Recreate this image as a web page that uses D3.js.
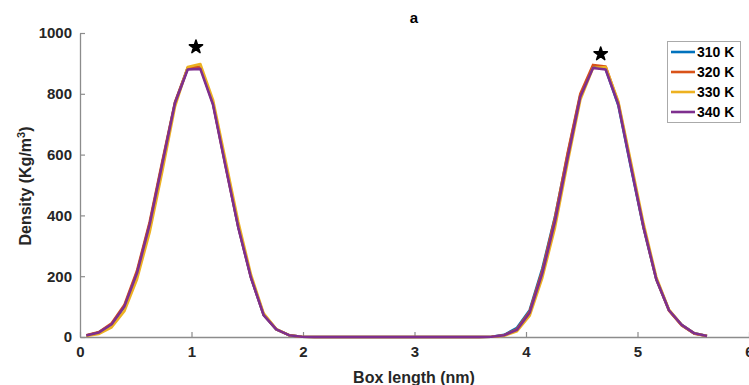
<!DOCTYPE html>
<html><head><meta charset="utf-8">
<script src="https://cdn.jsdelivr.net/npm/d3@7"></script>
<style>body{margin:0;background:#fff;}svg{display:block;font-family:"Liberation Sans",Arial,sans-serif;}</style>
</head><body><svg id="c" width="749" height="385"></svg>
<script>
const binCount = 50;
const binStart = 0.0568, binWidth = 0.1136;
const xValues = d3.range(binCount).map(i => binStart + binWidth * i);
const d340 = [5,15,42,100,210,370,570,770,880,882,765,560,360,195,72,25,6,1,0,0,0,0,0,0,0,0,0,0,0,0,0,0,1,6,24,80,210,380,590,790,885,880,765,560,360,190,88,40,12,3];
const d330 = [3,10,32,85,190,345,545,758,888,898,780,580,378,205,78,26,6,1,0,0,0,0,0,0,0,0,0,0,0,0,0,0,1,4,19,70,195,360,575,780,885,888,775,575,372,197,90,40,12,3];
const d320 = [6,16,45,105,218,378,578,772,885,888,768,562,362,196,73,25,6,1,0,0,0,0,0,0,0,0,0,0,0,0,0,0,1,6,26,84,218,392,605,800,895,890,770,565,360,190,87,38,11,3];
const d310 = [5,15,42,100,212,372,572,770,884,890,770,565,362,196,73,25,6,1,0,0,0,0,0,0,0,0,0,0,0,0,0,0,1,7,30,88,225,395,600,795,888,882,762,558,358,190,88,40,12,3];
const seriesNames = ["310 K","320 K","330 K","340 K"];
const seriesData = [d310, d320, d330, d340];
const colors = ["#0072BD","#D95319","#EDB120","#7E2F8E"];
const xTicks = [0,1,2,3,4,5,6];
const yTicks = [0,200,400,600,800,1000];
const stars = [[1.04,954],[4.67,931]];

const svg = d3.select("#c");
const x = d3.scaleLinear().domain([0,6]).range([80,749]);
const y = d3.scaleLinear().domain([0,1000]).range([337,33]);
const tc = "#262626", ac = "#8c8c8c";

// axes
const xa = svg.append("g").attr("transform","translate(0,337)")
  .call(d3.axisBottom(x).tickValues(xTicks).tickFormat(d3.format("d")).tickSizeInner(-5).tickSizeOuter(0).tickPadding(9));
const ya = svg.append("g").attr("transform","translate(80,0)")
  .call(d3.axisLeft(y).tickValues(yTicks).tickFormat(d3.format("d")).tickSizeInner(-5).tickSizeOuter(0).tickPadding(8));
[xa,ya].forEach(a=>{
  a.select(".domain").attr("stroke",ac).attr("stroke-width",1.3);
  a.selectAll(".tick line").attr("stroke",ac).attr("stroke-width",1.2);
  a.selectAll(".tick text").attr("fill",tc).attr("font-size",15).attr("font-weight","bold")
   .attr("font-family","Liberation Sans, Arial, sans-serif");
});

// lines
const line = d3.line().x((d,i)=>x(xValues[i])).y(d=>y(d));
seriesData.forEach((s,k)=>{
  svg.append("path").datum(s).attr("d",line).attr("fill","none")
    .attr("stroke",colors[k]).attr("stroke-width",2.6).attr("stroke-linejoin","round");
});

// stars
svg.selectAll("path.star").data(stars).enter().append("path")
  .attr("class","star").attr("d",d3.symbol(d3.symbolStar,55)())
  .attr("transform",d=>`translate(${x(d[0])},${y(d[1])})`).attr("fill","#000")
  .attr("stroke","#000").attr("stroke-width",1.5).attr("stroke-linejoin","round");

// title & labels
svg.append("text").attr("x",414).attr("y",23).attr("text-anchor","middle")
  .attr("font-size",15).attr("font-weight","bold").attr("fill","#000").text("a");
svg.append("text").attr("x",414).attr("y",383).attr("text-anchor","middle")
  .attr("font-size",16).attr("font-weight","bold").attr("fill",tc).text("Box length (nm)");
const yl = svg.append("text").attr("transform","translate(31,186) rotate(-90)").attr("text-anchor","middle")
  .attr("font-size",16).attr("font-weight","bold").attr("fill",tc);
yl.append("tspan").text("Density (Kg/m");
yl.append("tspan").attr("baseline-shift","super").attr("font-size",11).text("3");
yl.append("tspan").text(")");

// legend
const lg = svg.append("g");
lg.append("rect").attr("x",667.5).attr("y",41.5).attr("width",73).attr("height",81)
  .attr("fill","#fff").attr("stroke","#aaa").attr("stroke-width",1);
seriesNames.forEach((n,k)=>{
  const yy = 52 + k*20;
  lg.append("line").attr("x1",671).attr("x2",695).attr("y1",yy).attr("y2",yy)
    .attr("stroke",colors[k]).attr("stroke-width",2.6);
  lg.append("text").attr("x",697).attr("y",yy+5).attr("font-size",14).attr("font-weight","bold")
    .attr("fill","#000").text(n);
});
</script></body></html>
